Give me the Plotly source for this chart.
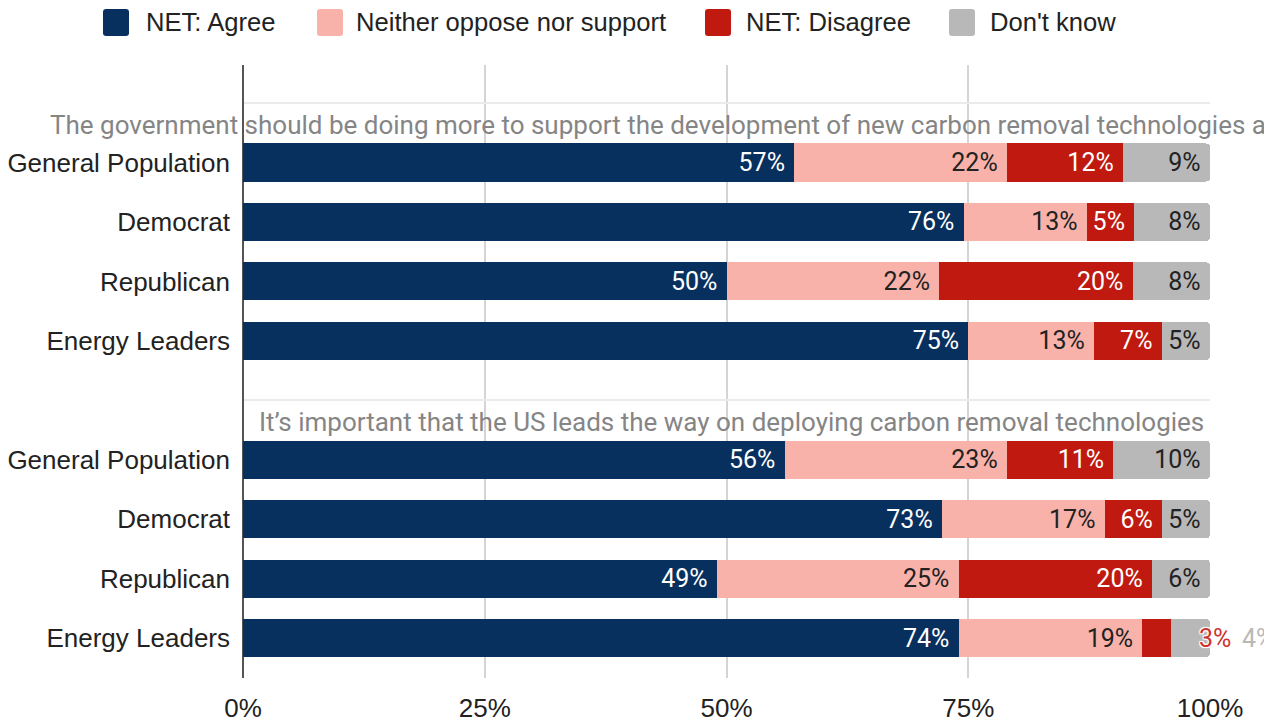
import plotly.graph_objects as go

# Survey groups (rows) and the two statements that head each block
groups = ["General Population", "Democrat", "Republican", "Energy Leaders"]
statements = [
    "The government should be doing more to support the development of new carbon removal technologies and infrastructure",
    "It\u2019s important that the US leads the way on deploying carbon removal technologies",
]
series = ["NET: Agree", "Neither oppose nor support", "NET: Disagree", "Don't know"]
colors = ["#08305e", "#f8b2aa", "#c0190f", "#b8b8b8"]
label_colors = ["#ffffff", "#222222", "#ffffff", "#222222"]

# Percent answering, statement 1 rows then statement 2 rows
agree = [57, 76, 50, 75, 56, 73, 49, 74]
neither = [22, 13, 22, 13, 23, 17, 25, 19]
disagree = [12, 5, 20, 7, 11, 6, 20, 3]
dont_know = [9, 8, 8, 5, 10, 5, 6, 4]
values = [agree, neither, disagree, dont_know]

x_ticks = [0, 25, 50, 75, 100]
x_tick_labels = ["0%", "25%", "50%", "75%", "100%"]

# Row slots: a header slot, then the four groups, for each statement
header_rows = [0, 5]
data_rows = [1, 2, 3, 4, 6, 7, 8, 9]
row_labels = [""] + groups + [""] + groups

MIN_INSIDE = 5  # shares below this get their label outside the bar

# Plot-area geometry (pixels) used for the hand-built legend and labels
L, R, T, B, W, H = 243, 54, 65, 44, 1264, 722
PW, PH = W - L - R, H - T - B


def px_x(p):
    return (p - L) / PW


def px_y(p):
    return (H - B - p) / PH


def rounded_rect(x0, y0, x1, y1, r):
    """SVG path (paper coords) for a rectangle given in pixels, with rounded corners."""
    pts = [
        f"M {px_x(x0 + r)} {px_y(y0)}",
        f"L {px_x(x1 - r)} {px_y(y0)}",
        f"Q {px_x(x1)} {px_y(y0)} {px_x(x1)} {px_y(y0 + r)}",
        f"L {px_x(x1)} {px_y(y1 - r)}",
        f"Q {px_x(x1)} {px_y(y1)} {px_x(x1 - r)} {px_y(y1)}",
        f"L {px_x(x0 + r)} {px_y(y1)}",
        f"Q {px_x(x0)} {px_y(y1)} {px_x(x0)} {px_y(y1 - r)}",
        f"L {px_x(x0)} {px_y(y0 + r)}",
        f"Q {px_x(x0)} {px_y(y0)} {px_x(x0 + r)} {px_y(y0)}",
        "Z",
    ]
    return " ".join(pts)


fig = go.Figure()
for name, vals, col, lcol in zip(series, values, colors, label_colors):
    text = [f"{v}%\u00a0" if v >= MIN_INSIDE else "" for v in vals]
    fig.add_trace(go.Bar(
        y=data_rows, x=vals, name=name, orientation="h",
        marker=dict(color=col, line=dict(width=0)),
        width=0.64,
        text=text, textposition="inside", insidetextanchor="end",
        textangle=0,
        insidetextfont=dict(family="Roboto", size=25, color=lcol),
        showlegend=False, hoverinfo="skip",
    ))

# Labels for slices too narrow to hold their text, placed past the bar end
outside_style = {2: dict(color="#d0312d", px=1215, anchor="center"),
                 3: dict(color="#b8b8b8", px=1240, anchor="left")}
for si, vals in enumerate(values):
    for ri, v in enumerate(vals):
        if v < MIN_INSIDE and si in outside_style:
            st = outside_style[si]
            fig.add_annotation(
                x=px_x(st["px"]), xref="paper", y=data_rows[ri], yref="y",
                text=f"{v}%", showarrow=False,
                xanchor=st["anchor"], yanchor="middle",
                font=dict(family="Roboto", size=25, color=st["color"],
                          shadow="-1px -1px 0 #fff, 1px -1px 0 #fff, -1px 1px 0 #fff, 1px 1px 0 #fff, 0 0 3px #fff"),
            )

# Statement headers above each block
header_left = [48, 257]
for hr, txt, xl in zip(header_rows, statements, header_left):
    fig.add_annotation(
        x=px_x(xl), xref="paper", y=hr, yref="y", yshift=-21.5,
        text=txt, showarrow=False, xanchor="left", yanchor="middle",
        font=dict(family="Roboto", size=26, color="#858585"),
    )

# Legend row across the top
sw_left = [103, 317, 705, 949]
txt_left = [144, 354, 744, 988]
for name, col, xl, tl in zip(series, colors, sw_left, txt_left):
    fig.add_shape(type="path", xref="paper", yref="paper",
                  path=rounded_rect(xl, 9, xl + 26, 36, 3),
                  fillcolor=col, line=dict(width=0), layer="above")
    fig.add_annotation(
        x=px_x(tl), xref="paper", y=px_y(22), yref="paper",
        text=name, showarrow=False, xanchor="left", yanchor="middle",
        font=dict(family="Liberation Sans, Arial", size=25.6, color="#222222"),
    )

fig.update_layout(
    width=W, height=H, autosize=False,
    margin=dict(l=L, r=R, t=T, b=B, pad=0, autoexpand=False),
    barmode="stack", barnorm="percent", barcornerradius=4,
    plot_bgcolor="#ffffff", paper_bgcolor="#ffffff",
    showlegend=False,
    font=dict(family="Liberation Sans, Arial", size=26, color="#222222"),
)
fig.update_xaxes(
    range=[0, 100], tickvals=x_ticks, ticktext=x_tick_labels,
    showgrid=True, gridcolor="#d4d4d4", gridwidth=2,
    zeroline=True, zerolinecolor="#555555", zerolinewidth=2,
    showline=False, ticks="", ticklabelstandoff=12, automargin=False,
    tickfont=dict(family="Liberation Sans, Arial", size=26, color="#222222"),
    fixedrange=True,
)
fig.update_yaxes(
    range=[9.67, -0.64], tickvals=list(range(10)), ticktext=row_labels,
    showgrid=True, gridcolor="#ebebeb", gridwidth=2,
    zeroline=False, showline=False, ticks="", ticklabelstandoff=12,
    automargin=False,
    tickfont=dict(family="Liberation Sans, Arial", size=26, color="#222222"),
    fixedrange=True,
)

fig.write_html("out.html")
